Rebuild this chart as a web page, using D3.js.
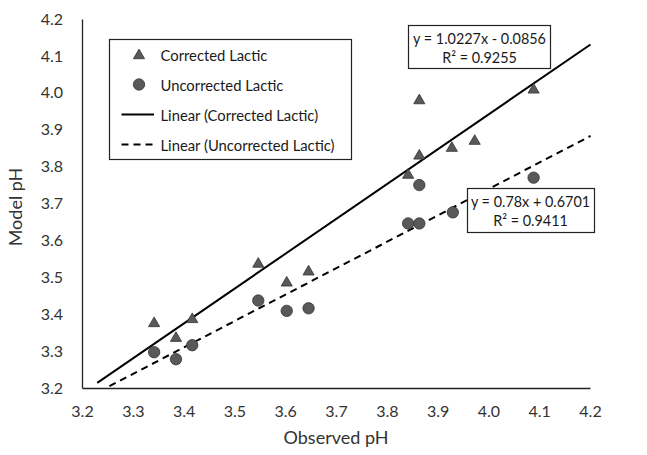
<!DOCTYPE html>
<html><head><meta charset="utf-8">
<script src="https://cdn.jsdelivr.net/npm/d3@7"></script>
<style>html,body{margin:0;padding:0;background:#fff;}svg{display:block;font-family:Lato,"Open Sans",sans-serif;}</style>
</head><body>
<svg id="chart" width="647" height="455"></svg>
<script>
// Data
const correctedObserved = [3.342, 3.385, 3.417, 3.547, 3.603, 3.646, 3.842, 3.864, 3.864, 3.928, 3.973, 4.089];
const correctedModel    = [3.375, 3.335, 3.386, 3.536, 3.485, 3.515, 3.777, 3.979, 3.829, 3.850, 3.869, 4.008];
const uncorrectedObserved = [3.342, 3.385, 3.417, 3.547, 3.603, 3.646, 3.842, 3.864, 3.864, 3.930, 3.973, 4.089];
const uncorrectedModel    = [3.297, 3.278, 3.316, 3.437, 3.409, 3.416, 3.646, 3.750, 3.646, 3.676, 3.690, 3.770];
// trendline end points as drawn
const correctedTrendX = [3.230, 4.201];
const correctedTrendY = [3.214, 4.131];
const uncorrectedTrendX = [3.254, 4.201];
const uncorrectedTrendY = [3.205, 3.883];
const xTicks = [3.2, 3.3, 3.4, 3.5, 3.6, 3.7, 3.8, 3.9, 4.0, 4.1, 4.2];
const yTicks = [3.2, 3.3, 3.4, 3.5, 3.6, 3.7, 3.8, 3.9, 4.0, 4.1, 4.2];
const seriesNames = ["Corrected Lactic", "Uncorrected Lactic", "Linear (Corrected Lactic)", "Linear (Uncorrected Lactic)"];
const eq1 = ["y = 1.0227x - 0.0856", "R² = 0.9255"];
const eq2 = ["y = 0.78x + 0.6701", "R² = 0.9411"];

const svg = d3.select("#chart");
const x = d3.scaleLinear().domain([3.2, 4.2]).range([82, 590]);
const y = d3.scaleLinear().domain([3.2, 4.2]).range([388, 19]);
const markFill = "#595959", markStroke = "#333", textCol = "#333";

// axes
const xAxis = d3.axisBottom(x).tickValues(xTicks).tickFormat(d3.format(".1f")).tickSize(0).tickPadding(18);
const yAxis = d3.axisLeft(y).tickValues(yTicks).tickFormat(d3.format(".1f")).tickSize(0).tickPadding(19);
const gx = svg.append("g").attr("transform", `translate(0,${y(3.2)})`).call(xAxis);
const gy = svg.append("g").attr("transform", `translate(${x(3.2)},0)`).call(yAxis);
[gx, gy].forEach(g => {
  g.select(".domain").attr("stroke", "#222").attr("stroke-width", 1.3);
  g.selectAll("text").attr("fill", textCol).style("font-size", "16px").style("font-family", "Lato, sans-serif");
});

// axis titles
svg.append("text").attr("x", 336).attr("y", 444).attr("text-anchor", "middle")
  .attr("fill", textCol).style("font-size", "18px").text("Observed pH");
svg.append("text").attr("transform", "translate(22,207) rotate(-90)").attr("text-anchor", "middle")
  .attr("fill", textCol).style("font-size", "18px").text("Model pH");

// trendlines
const line = d3.line().x(d => x(d[0])).y(d => y(d[1]));
svg.append("path").datum(d3.zip(correctedTrendX, correctedTrendY)).attr("d", line)
  .attr("fill", "none").attr("stroke", "#000").attr("stroke-width", 2);
svg.append("path").datum(d3.zip(uncorrectedTrendX, uncorrectedTrendY)).attr("d", line)
  .attr("fill", "none").attr("stroke", "#000").attr("stroke-width", 2).attr("stroke-dasharray", "7,5");

// markers
const tri = d3.symbol().type(d3.symbolTriangle).size(54);
svg.append("g").selectAll("path").data(d3.zip(correctedObserved, correctedModel)).join("path")
  .attr("d", tri).attr("transform", d => `translate(${x(d[0])},${y(d[1])})`)
  .attr("fill", markFill).attr("stroke", markStroke).attr("stroke-width", 0.8);
svg.append("g").selectAll("circle").data(d3.zip(uncorrectedObserved, uncorrectedModel)).join("circle")
  .attr("cx", d => x(d[0])).attr("cy", d => y(d[1])).attr("r", 5.7)
  .attr("fill", markFill).attr("stroke", markStroke).attr("stroke-width", 0.8);

// equation boxes
function eqBox(x0, y0, w, h, lines, cx, ys) {
  svg.append("rect").attr("x", x0).attr("y", y0).attr("width", w).attr("height", h)
    .attr("fill", "#fff").attr("stroke", "#222").attr("stroke-width", 1.2);
  lines.forEach((t, i) => svg.append("text").attr("x", cx).attr("y", ys[i]).attr("text-anchor", "middle")
    .attr("dominant-baseline", "central").attr("fill", "#1a1a1a").style("font-size", "14.4px").text(t));
}
eqBox(408.5, 25.5, 142, 43, eq1, 479.5, [38.5, 57.5]);
eqBox(467.5, 188.5, 127, 44, eq2, 530.5, [201.5, 220.5]);

// legend
const lg = svg.append("g");
lg.append("rect").attr("x", 109.5).attr("y", 39.5).attr("width", 242).attr("height", 120)
  .attr("fill", "#fff").attr("stroke", "#222").attr("stroke-width", 1.2);
const rowsY = [54.5, 84.5, 114.5, 144.5];
lg.append("path").attr("d", tri).attr("transform", `translate(139,${rowsY[0]+1})`)
  .attr("fill", markFill).attr("stroke", markStroke).attr("stroke-width", 0.8);
lg.append("circle").attr("cx", 139).attr("cy", rowsY[1]).attr("r", 5.7)
  .attr("fill", markFill).attr("stroke", markStroke).attr("stroke-width", 0.8);
lg.append("line").attr("x1", 121.5).attr("x2", 154).attr("y1", rowsY[2]).attr("y2", rowsY[2])
  .attr("stroke", "#000").attr("stroke-width", 2);
lg.append("line").attr("x1", 121.5).attr("x2", 154).attr("y1", rowsY[3]).attr("y2", rowsY[3])
  .attr("stroke", "#000").attr("stroke-width", 2).attr("stroke-dasharray", "7,5");
seriesNames.forEach((n, i) => lg.append("text").attr("x", 160.5).attr("y", rowsY[i])
  .attr("dominant-baseline", "central").attr("fill", "#1a1a1a").style("font-size", "14.8px").text(n));
</script>
</body></html>
